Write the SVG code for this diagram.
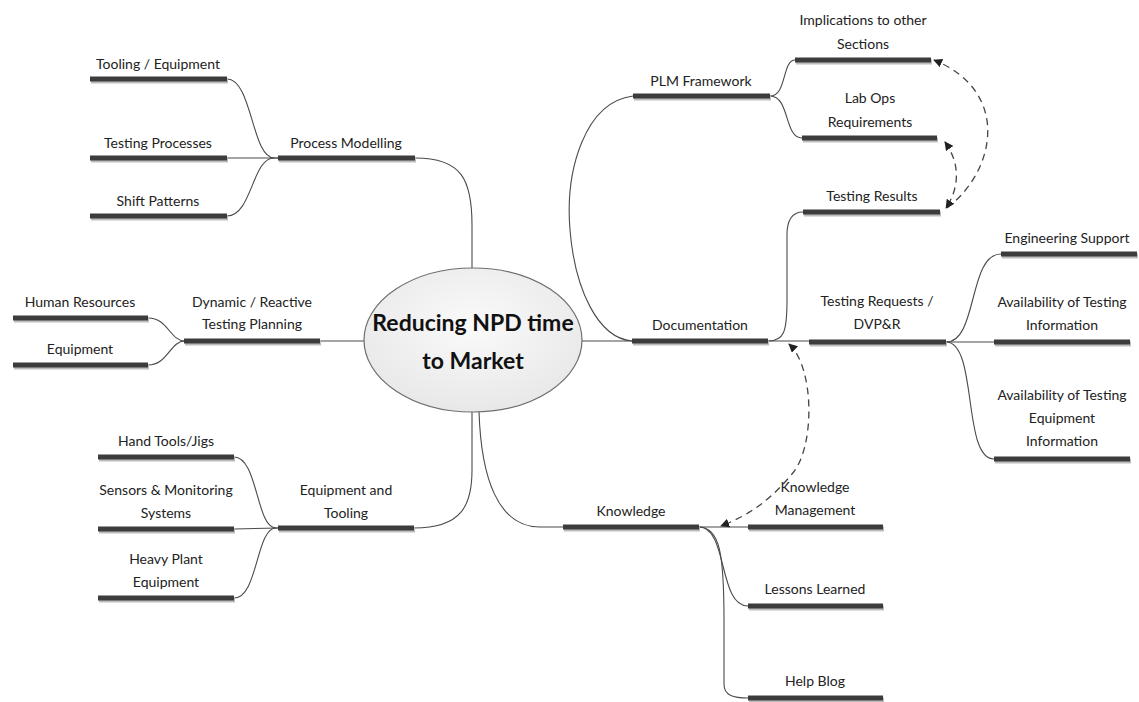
<svg xmlns="http://www.w3.org/2000/svg" width="1139" height="702" viewBox="0 0 1139 702">
  <style>
    .bar { stroke: #3c3c3c; stroke-width: 5; stroke-linecap: butt; fill: none; }
    .barShadow { stroke: #bdbdbd; stroke-width: 5; fill: none; }
    .link { stroke: #4a4a4a; stroke-width: 1.1; fill: none; }
    .dash { stroke: #444; stroke-width: 1.3; fill: none; stroke-dasharray: 7 5; }
    .lbl { font-family: Lato, "Open Sans", "Liberation Sans", sans-serif; font-size: 14px; fill: #222; text-anchor: middle; }
    .main { font-family: Lato, "Open Sans", "Liberation Sans", sans-serif; font-size: 23px; font-weight: bold; fill: #111; text-anchor: middle; }
  </style>
  <defs>
    <radialGradient id="centreFill" cx="50%" cy="40%" r="60%">
      <stop offset="0" stop-color="#fafafa"/>
      <stop offset="1" stop-color="#e8e8e8"/>
    </radialGradient>
    <marker id="head" viewBox="0 0 10 10" refX="9" refY="5" markerWidth="9" markerHeight="9" markerUnits="userSpaceOnUse" orient="auto-start-reverse">
      <path d="M0,0 L10,5 L0,10 z" fill="#222"/>
    </marker>
  </defs>

  <rect width="1139" height="702" fill="#ffffff"/>

  <!-- connectors -->
  <g id="connectors">
    <!-- left branches -->
    <path class="link" d="M227,79 C252,79 252,158 274,158 L278,158"/>
    <path class="link" d="M227,158 L278,158"/>
    <path class="link" d="M227,216 C252,216 252,158 274,158"/>
    <path class="link" d="M415,158 C462,158 472,180 472,225 L472,268"/>
    <path class="link" d="M148,318 C168,318 170,341 185,341"/>
    <path class="link" d="M148,365 C168,365 170,341 185,341"/>
    <path class="link" d="M320,341 L364,341"/>
    <path class="link" d="M234,457 C258,457 256,528 276,528 L278,528"/>
    <path class="link" d="M234,529 L278,528"/>
    <path class="link" d="M234,598 C258,598 256,528 276,528"/>
    <path class="link" d="M414,528 C462,528 472,505 472,470 L472,412"/>
    <!-- right branches -->
    <path class="link" d="M582,341 L632,341"/>
    <path class="link" d="M633,96 C585,102 565,170 570,230 C575,290 598,338 632,341"/>
    <path class="link" d="M770,96 C787,96 782,60 795,60"/>
    <path class="link" d="M770,96 C790,96 784,138 802,138"/>
    <path class="link" d="M768,341 C784,341 787,332 787,300 L787,235 C787,218 793,212 803,212"/>
    <path class="link" d="M768,341 L809,341"/>
    <path class="link" d="M946,342 C978,342 968,254 1001,254"/>
    <path class="link" d="M946,342 L994,342"/>
    <path class="link" d="M946,342 C978,342 962,459 994,459"/>
    <path class="link" d="M479,411 C481,478 498,527 540,527 L563,527"/>
    <path class="link" d="M699,527 L748,527"/>
    <path class="link" d="M699,527 C728,527 718,606 748,606"/>
    <path class="link" d="M699,527 C720,527 724,555 724,620 L724,684 C724,696 734,698 748,698"/>
    <!-- dashed relations -->
    <path class="dash" d="M947,208 C995,172 1012,92 934,60" marker-end="url(#head)"/>
    <path class="dash" d="M945,142 C962,166 958,190 946,208" marker-start="url(#head)" marker-end="url(#head)"/>
    <path class="dash" d="M789,344 C815,368 815,448 792,474 C772,498 752,514 721,526" marker-start="url(#head)" marker-end="url(#head)"/>
  </g>

  <!-- central topic -->
  <g id="centre">
    <ellipse cx="473" cy="340" rx="109" ry="72" fill="url(#centreFill)" stroke="#6e6e6e" stroke-width="1.2"/>
    <text class="main" x="473" y="331">Reducing NPD time</text>
    <text class="main" x="473" y="369">to Market</text>
  </g>

  <!-- Process Modelling -->
  <g id="process-modelling">
    <line class="barShadow" x1="279" y1="160" x2="416" y2="160"/>
    <line class="bar" x1="278" y1="158" x2="415" y2="158"/>
    <text class="lbl" x="346" y="148">Process Modelling</text>
  </g>
  <g id="tooling-equipment">
    <line class="barShadow" x1="91" y1="81" x2="228" y2="81"/>
    <line class="bar" x1="90" y1="79" x2="227" y2="79"/>
    <text class="lbl" x="158" y="69">Tooling / Equipment</text>
  </g>
  <g id="testing-processes">
    <line class="barShadow" x1="91" y1="160" x2="228" y2="160"/>
    <line class="bar" x1="90" y1="158" x2="227" y2="158"/>
    <text class="lbl" x="158" y="148">Testing Processes</text>
  </g>
  <g id="shift-patterns">
    <line class="barShadow" x1="91" y1="218" x2="228" y2="218"/>
    <line class="bar" x1="90" y1="216" x2="227" y2="216"/>
    <text class="lbl" x="158" y="206">Shift Patterns</text>
  </g>

  <!-- Dynamic / Reactive Testing Planning -->
  <g id="dynamic-planning">
    <line class="barShadow" x1="185" y1="343" x2="321" y2="343"/>
    <line class="bar" x1="184" y1="341" x2="320" y2="341"/>
    <text class="lbl" x="252" y="307">Dynamic / Reactive</text>
    <text class="lbl" x="252" y="329">Testing Planning</text>
  </g>
  <g id="human-resources">
    <line class="barShadow" x1="14" y1="320" x2="149" y2="320"/>
    <line class="bar" x1="13" y1="318" x2="148" y2="318"/>
    <text class="lbl" x="80" y="307">Human Resources</text>
  </g>
  <g id="equipment">
    <line class="barShadow" x1="14" y1="367" x2="149" y2="367"/>
    <line class="bar" x1="13" y1="365" x2="148" y2="365"/>
    <text class="lbl" x="80" y="354">Equipment</text>
  </g>

  <!-- Equipment and Tooling -->
  <g id="equipment-tooling">
    <line class="barShadow" x1="279" y1="530" x2="415" y2="530"/>
    <line class="bar" x1="278" y1="528" x2="414" y2="528"/>
    <text class="lbl" x="346" y="495">Equipment and</text>
    <text class="lbl" x="346" y="518">Tooling</text>
  </g>
  <g id="hand-tools">
    <line class="barShadow" x1="99" y1="459" x2="235" y2="459"/>
    <line class="bar" x1="98" y1="457" x2="234" y2="457"/>
    <text class="lbl" x="166" y="446">Hand Tools/Jigs</text>
  </g>
  <g id="sensors">
    <line class="barShadow" x1="99" y1="531" x2="235" y2="531"/>
    <line class="bar" x1="98" y1="529" x2="234" y2="529"/>
    <text class="lbl" x="166" y="495">Sensors &amp; Monitoring</text>
    <text class="lbl" x="166" y="518">Systems</text>
  </g>
  <g id="heavy-plant">
    <line class="barShadow" x1="99" y1="600" x2="235" y2="600"/>
    <line class="bar" x1="98" y1="598" x2="234" y2="598"/>
    <text class="lbl" x="166" y="564">Heavy Plant</text>
    <text class="lbl" x="166" y="587">Equipment</text>
  </g>

  <!-- Documentation -->
  <g id="documentation">
    <line class="barShadow" x1="633" y1="343" x2="769" y2="343"/>
    <line class="bar" x1="632" y1="341" x2="768" y2="341"/>
    <text class="lbl" x="700" y="330">Documentation</text>
  </g>
  <g id="plm-framework">
    <line class="barShadow" x1="634" y1="98" x2="771" y2="98"/>
    <line class="bar" x1="633" y1="96" x2="770" y2="96"/>
    <text class="lbl" x="701" y="86">PLM Framework</text>
  </g>
  <g id="implications">
    <line class="barShadow" x1="796" y1="62" x2="932" y2="62"/>
    <line class="bar" x1="795" y1="60" x2="931" y2="60"/>
    <text class="lbl" x="863" y="25">Implications to other</text>
    <text class="lbl" x="863" y="49">Sections</text>
  </g>
  <g id="lab-ops">
    <line class="barShadow" x1="803" y1="140" x2="938" y2="140"/>
    <line class="bar" x1="802" y1="138" x2="937" y2="138"/>
    <text class="lbl" x="870" y="103">Lab Ops</text>
    <text class="lbl" x="870" y="127">Requirements</text>
  </g>
  <g id="testing-results">
    <line class="barShadow" x1="804" y1="214" x2="941" y2="214"/>
    <line class="bar" x1="803" y1="212" x2="940" y2="212"/>
    <text class="lbl" x="872" y="201">Testing Results</text>
  </g>
  <g id="testing-requests">
    <line class="barShadow" x1="810" y1="344" x2="947" y2="344"/>
    <line class="bar" x1="809" y1="342" x2="946" y2="342"/>
    <text class="lbl" x="877" y="306">Testing Requests /</text>
    <text class="lbl" x="877" y="329">DVP&amp;R</text>
  </g>
  <g id="engineering-support">
    <line class="barShadow" x1="1002" y1="256" x2="1138" y2="256"/>
    <line class="bar" x1="1001" y1="254" x2="1137" y2="254"/>
    <text class="lbl" x="1067" y="243">Engineering Support</text>
  </g>
  <g id="testing-information">
    <line class="barShadow" x1="995" y1="344" x2="1131" y2="344"/>
    <line class="bar" x1="994" y1="342" x2="1130" y2="342"/>
    <text class="lbl" x="1062" y="307">Availability of Testing</text>
    <text class="lbl" x="1062" y="330">Information</text>
  </g>
  <g id="equipment-information">
    <line class="barShadow" x1="995" y1="461" x2="1131" y2="461"/>
    <line class="bar" x1="994" y1="459" x2="1130" y2="459"/>
    <text class="lbl" x="1062" y="400">Availability of Testing</text>
    <text class="lbl" x="1062" y="423">Equipment</text>
    <text class="lbl" x="1062" y="446">Information</text>
  </g>

  <!-- Knowledge -->
  <g id="knowledge">
    <line class="barShadow" x1="564" y1="529" x2="700" y2="529"/>
    <line class="bar" x1="563" y1="527" x2="699" y2="527"/>
    <text class="lbl" x="631" y="516">Knowledge</text>
  </g>
  <g id="knowledge-management">
    <line class="barShadow" x1="749" y1="529" x2="884" y2="529"/>
    <line class="bar" x1="748" y1="527" x2="883" y2="527"/>
    <text class="lbl" x="815" y="492">Knowledge</text>
    <text class="lbl" x="815" y="515">Management</text>
  </g>
  <g id="lessons-learned">
    <line class="barShadow" x1="749" y1="608" x2="884" y2="608"/>
    <line class="bar" x1="748" y1="606" x2="883" y2="606"/>
    <text class="lbl" x="815" y="594">Lessons Learned</text>
  </g>
  <g id="help-blog">
    <line class="barShadow" x1="749" y1="700" x2="884" y2="700"/>
    <line class="bar" x1="748" y1="698" x2="883" y2="698"/>
    <text class="lbl" x="815" y="686">Help Blog</text>
  </g>
</svg>
